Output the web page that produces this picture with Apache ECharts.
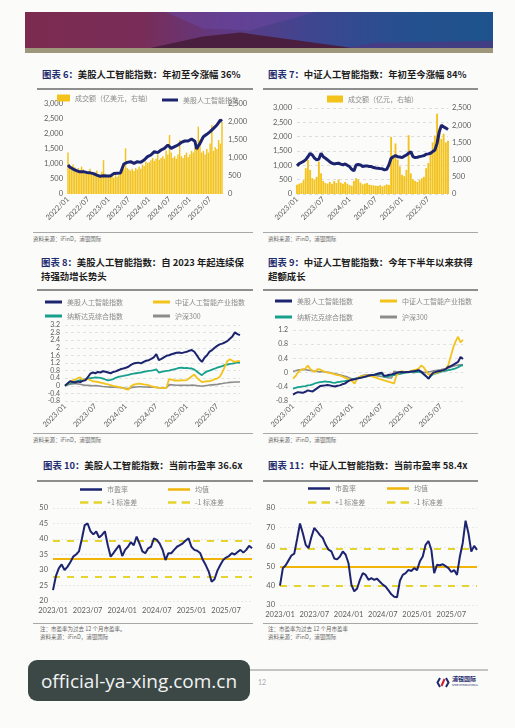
<!DOCTYPE html>
<html><head><meta charset="utf-8">
<script src="https://cdn.jsdelivr.net/npm/echarts@6.0.0/dist/echarts.min.js"></script>
<style>
html,body{margin:0;padding:0;width:515px;height:728px;background:#fbfbf9;overflow:hidden;font-family:"Noto Sans CJK SC","Noto Sans",sans-serif;}
.abs{position:absolute;}
.title{font-weight:700;font-size:9.4px;color:#1d1d1d;line-height:14px;white-space:nowrap;}
.title b{color:#1c2a6e;font-weight:700;}
.rule{height:1.5px;background:#8e8e8e;}
.thin{height:1px;background:#a8a8a8;}
.src{font-size:5.5px;color:#666;line-height:7px;white-space:nowrap;}
.chart{position:absolute;width:228px;height:140px;}
</style></head>
<body>
<!-- header banner -->
<div class="abs" style="left:25px;top:12px;width:468px;height:41px;overflow:hidden;">
  <div class="abs" style="inset:0;background:linear-gradient(90deg,#7c2b4f 0%,#782d58 25%,#5e3a86 44%,#3d4690 62%,#25508f 82%,#1d538c 100%);"></div>
  <div class="abs" style="inset:0;background:#6a47a0;opacity:.55;clip-path:polygon(30% 0,62% 0,48% 45%,38% 40%);"></div>
  <div class="abs" style="inset:0;background:#4a1e3e;clip-path:polygon(22% 100%,38% 60%,46% 50%,78% 100%);"></div>
  <div class="abs" style="inset:0;background:#4a3a82;opacity:.8;clip-path:polygon(62% 100%,75% 75%,100% 70%,100% 100%);"></div>
  <div class="abs" style="left:0;right:0;bottom:0;height:5px;background:#9e977c;"></div>
</div>

<!-- titles -->
<div class="abs title" style="left:42px;top:67px;"><b>图表 6：</b>美股人工智能指数：年初至今涨幅 36%</div>
<div class="abs title" style="left:268px;top:67px;"><b>图表 7：</b>中证人工智能指数：年初至今涨幅 84%</div>
<div class="abs rule" style="left:37px;top:88px;width:216px;"></div>
<div class="abs rule" style="left:263px;top:88px;width:215px;"></div>

<div class="abs title" style="left:41px;top:255px;"><b>图表 8：</b>美股人工智能指数：自 2023 年起连续保<br>持强劲增长势头</div>
<div class="abs title" style="left:268px;top:255px;"><b>图表 9：</b>中证人工智能指数：今年下半年以来获得<br>超额成长</div>
<div class="abs rule" style="left:37px;top:289px;width:216px;"></div>
<div class="abs rule" style="left:263px;top:289px;width:215px;"></div>

<div class="abs title" style="left:43px;top:458px;"><b>图表 10：</b>美股人工智能指数：当前市盈率 36.6x</div>
<div class="abs title" style="left:268px;top:458px;"><b>图表 11：</b>中证人工智能指数：当前市盈率 58.4x</div>
<div class="abs rule" style="left:37px;top:480px;width:216px;"></div>
<div class="abs rule" style="left:263px;top:480px;width:215px;"></div>

<!-- chart containers -->
<div id="c6" class="chart" style="left:30px;top:91px;"></div>
<div id="c7" class="chart" style="left:263px;top:91px;"></div>
<div id="c8" class="chart" style="left:30px;top:292px;"></div>
<div id="c9" class="chart" style="left:263px;top:292px;"></div>
<div id="c10" class="chart" style="left:30px;top:481px;"></div>
<div id="c11" class="chart" style="left:263px;top:481px;"></div>

<!-- sources -->
<div class="abs thin" style="left:33px;top:232px;width:220px;"></div>
<div class="abs thin" style="left:263px;top:232px;width:215px;"></div>
<div class="abs src" style="left:33px;top:236px;">资料来源：iFinD，浦银国际</div>
<div class="abs src" style="left:268px;top:236px;">资料来源：iFinD，浦银国际</div>

<div class="abs thin" style="left:33px;top:433px;width:220px;"></div>
<div class="abs thin" style="left:263px;top:433px;width:215px;"></div>
<div class="abs src" style="left:33px;top:437px;">资料来源：iFinD，浦银国际</div>
<div class="abs src" style="left:268px;top:437px;">资料来源：iFinD，浦银国际</div>

<div class="abs thin" style="left:33px;top:623px;width:220px;"></div>
<div class="abs thin" style="left:263px;top:623px;width:215px;"></div>
<div class="abs src" style="left:40px;top:626px;">注：市盈率为过去 12 个月市盈率。</div>
<div class="abs src" style="left:40px;top:634px;">资料来源：iFinD，浦银国际</div>
<div class="abs src" style="left:268px;top:626px;">注：市盈率为过去 12 个月市盈率</div>
<div class="abs src" style="left:268px;top:634px;">资料来源：iFinD，浦银国际</div>

<!-- footer -->
<div class="abs" style="left:28px;top:669px;width:460px;height:1.5px;background:#c4c4c4;"></div>
<div class="abs" style="left:258px;top:678px;font-size:7px;color:#aaa;font-family:Lato,sans-serif;">12</div>
<div class="abs" style="left:436px;top:676px;display:flex;align-items:center;">
  <svg width="14" height="11" viewBox="0 0 14 11"><path d="M4 1 L1.5 5.5 L4 10" stroke="#1f2b6e" stroke-width="2" fill="none"/><path d="M10 1 L12.5 5.5 L10 10" stroke="#1f2b6e" stroke-width="2" fill="none"/><path d="M5.5 9 L8.5 2" stroke="#c8202f" stroke-width="2" fill="none"/></svg>
  <div style="margin-left:2px;line-height:6px;"><div style="font-size:6px;color:#1f2b6e;font-weight:700;">浦银国际</div><div style="font-size:2.5px;color:#1f2b6e;">SPDB INTERNATIONAL</div></div>
</div>
<div class="abs" style="left:28px;top:660px;width:222px;height:41px;background:#3b4846;border-radius:9px;display:flex;align-items:center;justify-content:center;color:#f2f2f2;font-family:'Open Sans',sans-serif;font-size:19px;">official-ya-xing.com.cn</div>

<script>
const CJK = '"Noto Sans CJK SC", sans-serif';
const NUM = 'Lato, sans-serif';
const NAVY = '#1c2470', YEL = '#f3c31c', TEAL = '#17a08e', GRAY = '#8c8c8c';
const MEAN_C = '#f1b50a', DASH_C = '#e4d42c';

// ---------- data ----------
// Chart 6: 2022/01 - 2025/10, semi-monthly
const c6Index = [967,900,855,830,800,780,767,740,722,745,767,720,690,705,722,680,655,630,611,590,578,610,633,600,
 578,600,640,680,722,690,655,700,744,1000,1022,1055,1070,1078,1050,1022,1050,1078,1065,1055,1090,1133,1190,1244,
 1270,1300,1360,1411,1395,1378,1420,1467,1495,1522,1580,1633,1689,1520,1467,1578,1600,1633,1680,1722,1745,1767,1760,1767,
 1800,1833,1855,1760,1500,1600,1689,1800,1911,1950,1989,2030,2078,2130,2189,2250,2300,2380,2467,2420];
const c6Turnover = [1150,760,700,820,740,680,720,650,760,690,640,600,620,700,580,560,600,650,560,540,620,940,560,520,
 500,470,520,450,560,480,520,600,640,700,1270,720,680,650,700,640,720,680,760,700,820,780,900,860,
 880,940,1000,920,980,1100,950,1000,1050,980,1200,1100,1640,1150,1000,1050,980,1100,1500,1050,1000,1080,1150,1020,
 1100,1200,1150,1300,1250,1870,1500,1150,1200,1100,1250,1150,1400,1920,1200,1300,1250,1500,1400,2000];

// Chart 7: 2023/01 - 2025/11, semi-monthly
const c7Index = [980,1060,1100,1140,1200,1300,1419,1361,1250,1188,1220,1419,1300,1246,1188,1120,1073,1050,1065,1073,1040,1015,1050,1000,
 957,860,807,1015,1030,1015,957,975,980,960,957,923,910,900,885,877,842,860,1015,1246,1300,1338,1303,1290,
 1269,1320,1361,1420,1476,1303,1269,1280,1303,1320,1338,1384,1400,1419,1480,1534,1765,2168,2400,2341,2300,2250];
const c7Turnover = [270,300,320,400,750,990,700,460,420,500,940,600,380,320,300,350,300,380,320,420,330,300,350,300,
 260,240,380,460,420,330,280,300,320,270,260,250,240,230,260,220,250,280,260,1660,1100,1470,1000,800,
 560,520,700,1710,600,420,380,350,400,460,500,750,900,1230,1500,1700,2336,1900,1600,1750,1500,1550];

// Chart 8: cumulative return since 2023/01
const c8US = [0,0.12,0.24,0.2,0.17,0.22,0.2,0.26,0.29,0.45,0.64,0.7,0.66,0.73,0.7,0.77,0.74,0.7,0.66,0.73,0.76,0.82,0.88,0.91,
 0.95,1.0,1.1,1.17,1.2,1.22,1.18,1.26,1.32,1.35,1.42,1.5,1.67,1.35,1.42,1.5,1.58,1.61,1.66,1.7,1.74,1.75,1.72,1.76,
 1.79,1.85,1.88,1.79,1.6,1.4,1.26,1.48,1.61,1.8,1.88,2.0,2.1,2.18,2.22,2.28,2.35,2.48,2.6,2.81,2.72,2.67];
const c8CSI = [0,0.1,0.2,0.28,0.32,0.4,0.45,0.3,0.33,0.36,0.3,0.24,0.22,0.2,0.17,0.14,0.1,0.07,0.04,0.0,-0.03,-0.06,-0.08,-0.13,
 -0.18,-0.2,-0.02,0.06,0.09,0.12,0.1,0.07,0.06,0.03,-0.02,-0.06,-0.08,-0.1,-0.11,-0.12,-0.1,0.35,0.32,0.28,0.29,0.27,0.3,0.28,
 0.3,0.4,0.5,0.59,0.42,0.3,0.2,0.22,0.24,0.25,0.28,0.35,0.38,0.47,0.7,1.0,1.3,1.4,1.32,1.26,1.3,1.3];
const c8NDX = [0,0.08,0.12,0.18,0.24,0.26,0.3,0.33,0.35,0.38,0.4,0.42,0.44,0.43,0.42,0.38,0.33,0.29,0.31,0.35,0.42,0.47,0.5,0.52,
 0.55,0.58,0.62,0.64,0.66,0.68,0.7,0.73,0.76,0.78,0.8,0.83,0.87,0.7,0.73,0.76,0.78,0.8,0.84,0.87,0.9,0.94,0.95,0.93,
 0.94,0.92,0.91,0.85,0.75,0.65,0.56,0.68,0.76,0.8,0.85,0.9,0.96,1.0,1.04,1.09,1.12,1.15,1.17,1.2,1.23,1.22];
const c8HS = [0,0.05,0.08,0.1,0.12,0.1,0.08,0.05,0.03,0.02,0.01,0,0.01,0,-0.02,-0.04,-0.05,-0.06,-0.07,-0.06,-0.08,-0.09,-0.1,-0.11,
 -0.14,-0.15,-0.1,-0.07,-0.06,-0.05,-0.05,-0.06,-0.06,-0.07,-0.07,-0.08,-0.09,-0.1,-0.11,-0.12,-0.1,0.06,0.05,0.04,0.03,0.03,0.02,0.03,
 0.03,0.02,0.04,0.03,0.01,0,-0.02,0,0.02,0.04,0.05,0.06,0.07,0.1,0.12,0.15,0.16,0.18,0.19,0.2,0.2,0.2];

// Chart 9: rebased returns
const c9US = [-0.62,-0.58,-0.55,-0.56,-0.57,-0.54,-0.5,-0.52,-0.53,-0.48,-0.43,-0.38,-0.37,-0.36,-0.35,-0.36,-0.38,-0.39,-0.37,-0.36,-0.33,-0.31,-0.26,-0.22,
 -0.2,-0.19,-0.17,-0.15,-0.14,-0.12,-0.1,-0.08,-0.07,-0.06,-0.04,-0.02,0,-0.09,-0.08,-0.06,-0.05,-0.03,-0.01,0.01,0.02,0.01,0.02,0.02,
 0.03,0.04,0.05,0.07,0.03,-0.04,-0.1,-0.17,-0.07,0,0.02,0.04,0.05,0.07,0.1,0.16,0.18,0.22,0.26,0.3,0.44,0.38];
const c9CSI = [-0.17,-0.1,0.0,0.07,0.09,0.11,0.2,0.1,0.05,0.02,0.1,0.09,0.05,0.02,0,-0.01,-0.03,-0.05,-0.07,-0.08,-0.11,-0.14,-0.17,-0.2,
 -0.24,-0.31,-0.18,-0.12,-0.1,-0.09,-0.08,-0.09,-0.11,-0.13,-0.15,-0.18,-0.2,-0.22,-0.24,-0.26,-0.28,-0.31,-0.08,0.0,0.04,0.03,0.02,0.03,
 0.05,0.07,0.08,0.11,0.2,0.15,0.05,-0.06,-0.04,-0.03,-0.01,0.02,0.04,0.06,0.1,0.21,0.45,0.7,0.88,1.01,0.85,0.92];
const c9NDX = [-0.45,-0.43,-0.41,-0.4,-0.39,-0.38,-0.36,-0.35,-0.33,-0.3,-0.28,-0.27,-0.26,-0.25,-0.26,-0.26,-0.28,-0.29,-0.27,-0.26,-0.25,-0.24,-0.22,-0.2,
 -0.19,-0.17,-0.16,-0.15,-0.13,-0.12,-0.11,-0.09,-0.08,-0.07,-0.06,-0.05,-0.03,-0.12,-0.11,-0.1,-0.08,-0.07,-0.05,-0.04,-0.03,-0.01,0,0.01,
 0.02,0.02,0.03,0.02,0.01,-0.04,-0.1,-0.17,-0.09,-0.04,-0.02,0,0.02,0.04,0.05,0.07,0.08,0.1,0.12,0.15,0.19,0.21];
const c9HS = [0.04,0.05,0.07,0.08,0.09,0.08,0.07,0.06,0.05,0.04,0.03,0.02,0.03,0.02,0.01,0,-0.02,-0.03,-0.05,-0.06,-0.08,-0.1,-0.12,-0.15,
 -0.18,-0.19,-0.15,-0.12,-0.09,-0.07,-0.06,-0.06,-0.07,-0.08,-0.09,-0.1,-0.11,-0.12,-0.14,-0.15,-0.15,0.04,0.02,0.01,0,0.01,0.02,0.02,
 0.01,0,0.01,0.02,0.02,0.01,0,0.02,0.03,0.05,0.06,0.07,0.08,0.1,0.11,0.13,0.16,0.18,0.2,0.21,0.22,0.23];

// Chart 10: US AI index trailing PE
const c10PE = [23.5,28,30.5,31.8,30,31,32.5,34.3,35,36,40,44.5,45,42.5,41.5,42.4,40.5,41.3,42.5,38,34.3,35.5,36.8,38,
 34.5,36.5,37.5,39,38,40.8,38.5,36,35.4,37,37.5,40.2,39.7,38.5,36.5,33.2,35.4,35.4,36.5,37.5,38,38.6,39.5,40.2,
 37.5,36.5,36.2,35.5,33.2,31.5,29.5,26.2,27,29.8,31.6,33.2,34,34.5,35.4,35,35.8,36.5,35.6,36.5,37.8,37];
const c10Mean = 33.5, c10Plus1 = 39.4, c10Minus1 = 27.7;

// Chart 11: CSI AI index trailing PE
const c11PE = [40,49,50.5,53,55.5,56.5,64,72,67,61,59.3,65,69.7,68,66,64.5,61,58.5,57.6,54,53.5,55,57.6,55.9,
 51.5,40.5,37,38.5,43,46.4,45.5,43,43.8,43,43.5,42,40.5,39.5,37.5,35.5,34.3,34,42.5,45.5,46.4,48.1,47.5,49,
 48,52.5,55,61,63,58.5,46.4,50.7,50.5,51,50,49,47,48,45.5,55,62,73.5,67,57.5,60.5,58.4];
const c11Mean = 49.5, c11Plus1 = 59, c11Minus1 = 40;

// ---------- categories (semi-monthly dates) ----------
function semiMonthly(y0, n){
  const c = [];
  for (let i = 0; i < n; i++) {
    const m = Math.floor(i / 2);
    const y = y0 + Math.floor(m / 12);
    const mm = String(m % 12 + 1).padStart(2, '0');
    c.push(y + '/' + mm + (i % 2 ? '/16' : '/01'));
  }
  return c;
}
const cats6 = semiMonthly(2022, c6Index.length);
const cats7 = semiMonthly(2023, c7Index.length);

// ---------- helpers ----------
const labelEvery6M = { interval: (i) => i % 12 === 0, formatter: (v) => v.slice(0, 7) };
const fmtK = (v) => v.toLocaleString('en-US');
const ICON_LINE = 'path://M0,0H20V2H0Z';
const ICON_DASH = 'path://M0,0H8V2H0ZM13,0H21V2H13Z';
function leg(name, left, top, w, h, icon){
  return { data: [{ name, icon }], left, top, itemWidth: w, itemHeight: h, symbolKeepAspect: false,
    itemGap: 9, padding: 0, selectedMode: false,
    textStyle: { color: '#8a8a8a', fontSize: 7, fontFamily: CJK } };
}
function baseGrid(l, r, t, b){ return { left: l, right: r, top: t, bottom: b, containLabel: false, outerBoundsMode: 'none' }; }
function rotX(cats){
  return { type: 'category', data: cats, boundaryGap: false,
    axisLine: { show: false }, axisTick: { show: false },
    axisLabel: Object.assign({ rotate: 45, color: '#5c5c5c', fontSize: 7.5, fontFamily: NUM, margin: 4 }, labelEvery6M) };
}
function valY(min, max, step, opts){
  return Object.assign({ type: 'value', min, max, interval: step,
    axisLine: { show: false }, axisTick: { show: false },
    axisLabel: { color: '#5c5c5c', fontSize: 7.5, fontFamily: NUM, margin: 5 },
    splitLine: { show: false } }, opts || {});
}
function lineS(name, data, color, width, yi, z){
  return { name, type: 'line', data, yAxisIndex: yi || 0, symbol: 'none', showSymbol: false,
    lineStyle: { color, width }, itemStyle: { color }, z: z || 3, emphasis: { disabled: true } };
}

// ---------- Chart 6 ----------
echarts.init(document.getElementById('c6')).setOption({
  animation: false,
  grid: baseGrid(38, 36, 13, 37),
  legend: [
    leg('成交额（亿美元，右轴）', 27, 3.5, 13, 7, 'rect'),
    leg('美股人工智能指数', 132, 5.5, 16, 3, ICON_LINE)
  ],
  xAxis: rotX(cats6),
  yAxis: [
    valY(0, 3000, 500, { axisLabel: { color: '#5c5c5c', fontSize: 7.5, fontFamily: NUM, margin: 5, formatter: fmtK } }),
    valY(0, 2500, 500, { position: 'right', axisLabel: { color: '#5c5c5c', fontSize: 7.5, fontFamily: NUM, margin: 6, formatter: fmtK } })
  ],
  series: [
    { name: '成交额（亿美元，右轴）', type: 'bar', data: c6Turnover, yAxisIndex: 1, barCategoryGap: '15%',
      itemStyle: { color: YEL }, z: 1, emphasis: { disabled: true } },
    lineS('美股人工智能指数', c6Index, NAVY, 3, 0, 5)
  ]
});

// ---------- Chart 7 ----------
echarts.init(document.getElementById('c7')).setOption({
  animation: false,
  grid: baseGrid(34, 43, 17, 37),
  legend: leg('成交额（亿元，右轴）', 64, 4.5, 16, 7, 'rect'),
  xAxis: rotX(cats7),
  yAxis: [
    valY(0, 3000, 500, { axisLabel: { color: '#5c5c5c', fontSize: 7.5, fontFamily: NUM, margin: 5, formatter: fmtK },
      splitLine: { show: true, lineStyle: { color: '#d6d6d6', type: [3, 3], width: 0.8 } } }),
    valY(0, 2500, 500, { position: 'right', axisLabel: { color: '#5c5c5c', fontSize: 7.5, fontFamily: NUM, margin: 4, formatter: fmtK } })
  ],
  series: [
    { name: '成交额（亿元，右轴）', type: 'bar', data: c7Turnover, yAxisIndex: 1, barCategoryGap: '15%',
      itemStyle: { color: YEL }, z: 1, emphasis: { disabled: true } },
    lineS('中证人工智能指数', c7Index, NAVY, 3, 0, 5)
  ]
});

// ---------- Chart 8 & 9 ----------
function perfOption(us, csi, ndx, hs, ymin, ymax, grid, pos){
  const gridSplit = { show: true, lineStyle: { color: '#dcdcdc', type: [3, 3], width: 0.8 } };
  return {
    animation: false,
    grid,
    legend: [
      leg('美股人工智能指数', pos[0], pos[2], 17, 3, ICON_LINE),
      leg('中证人工智能产业指数', pos[1], pos[2], 17, 3, ICON_LINE),
      leg('纳斯达克综合指数', pos[0], pos[3], 17, 3, ICON_LINE),
      leg('沪深300', pos[1], pos[3], 17, 3, ICON_LINE)
    ],
    xAxis: rotX(cats7),
    yAxis: valY(ymin, ymax, 0.4, { splitLine: gridSplit,
      axisLabel: { color: '#5c5c5c', fontSize: 7, fontFamily: NUM, margin: 5 } }),
    series: [
      lineS('沪深300', hs, GRAY, 1.6, 0, 2),
      lineS('纳斯达克综合指数', ndx, TEAL, 1.8, 0, 3),
      lineS('中证人工智能产业指数', csi, YEL, 1.8, 0, 4),
      lineS('美股人工智能指数', us, NAVY, 2, 0, 5)
    ]
  };
}
echarts.init(document.getElementById('c8')).setOption(
  perfOption(c8US, c8CSI, c8NDX, c8HS, -0.8, 3.2, baseGrid(35, 18, 33, 31), [15, 123, 6.5, 20.5]));
echarts.init(document.getElementById('c9')).setOption(
  perfOption(c9US, c9CSI, c9NDX, c9HS, -0.8, 1.2, baseGrid(30, 28, 38, 31), [12, 117, 5.5, 21.5]));

// ---------- Chart 10 & 11 ----------
function statS(name, v, dashed, color){
  return { name, type: 'line', data: [], symbol: 'none', showSymbol: false,
    lineStyle: { color, width: 2, type: dashed ? [7, 7] : 'solid' }, itemStyle: { color },
    markLine: { silent: true, symbol: 'none', label: { show: false }, animation: false,
      lineStyle: { color, width: 2, type: dashed ? [7, 7] : 'solid' }, data: [{ yAxis: v }] }, z: 3 };
}
function peOption(pe, mean, p1, m1, ymin, ymax, step, grid, pos){
  return {
    animation: false,
    grid,
    legend: [
      leg('市盈率', pos[0], pos[2], 22, 2.5, ICON_LINE),
      leg('均值', pos[1], pos[2], 22, 2.5, ICON_LINE),
      leg('+1 标准差', pos[0], pos[3], 22, 2.5, ICON_DASH),
      leg('-1 标准差', pos[1], pos[3], 22, 2.5, ICON_DASH)
    ],
    xAxis: { type: 'category', data: cats7, boundaryGap: false, axisLine: { show: false }, axisTick: { show: false },
      axisLabel: Object.assign({ color: '#5c5c5c', fontSize: 7.5, fontFamily: NUM, margin: 6 }, labelEvery6M) },
    yAxis: valY(ymin, ymax, step, { splitLine: { show: true, lineStyle: { color: '#e4e4e4', type: [2, 2], width: 0.8 } } }),
    series: [
      lineS('市盈率', pe, NAVY, 2, 0, 5),
      statS('均值', mean, false, MEAN_C),
      statS('+1 标准差', p1, true, DASH_C),
      statS('-1 标准差', m1, true, DASH_C)
    ]
  };
}
echarts.init(document.getElementById('c10')).setOption(
  peOption(c10PE, c10Mean, c10Plus1, c10Minus1, 20, 50, 5, baseGrid(23, 6, 27, 20), [50, 138, 5, 18]));
echarts.init(document.getElementById('c11')).setOption(
  peOption(c11PE, c11Mean, c11Plus1, c11Minus1, 30, 80, 10, baseGrid(17, 14, 27, 16), [45, 124, 4, 18]));
</script>
</body></html>
